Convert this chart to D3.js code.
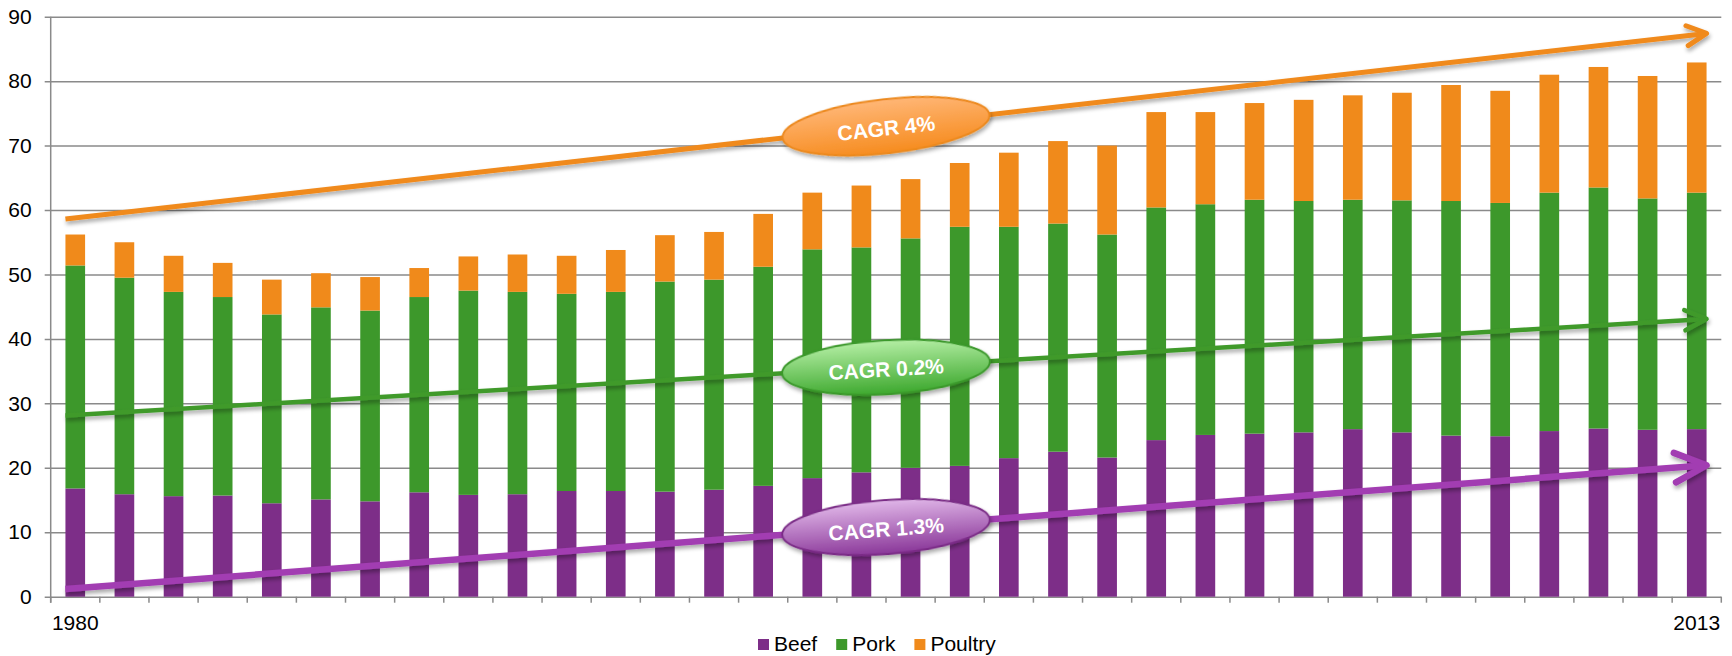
<!DOCTYPE html>
<html>
<head>
<meta charset="utf-8">
<script src="https://cdn.jsdelivr.net/npm/d3@7"></script>
<style>
  html, body { margin: 0; padding: 0; background: #fff; }
  svg { display: block; font-family: "Liberation Sans", Arial, sans-serif; }
</style>
</head>
<body>
<svg id="chart" width="1732" height="656"></svg>
<script>
// Meat consumption by type, 1980–2013
const years = [1980, 1981, 1982, 1983, 1984, 1985, 1986, 1987, 1988, 1989,
               1990, 1991, 1992, 1993, 1994, 1995, 1996, 1997, 1998, 1999,
               2000, 2001, 2002, 2003, 2004, 2005, 2006, 2007, 2008, 2009,
               2010, 2011, 2012, 2013];
const seriesNames = ["Beef", "Pork", "Poultry"];
const beef = [16.8, 15.9, 15.6, 15.7, 14.5, 15.1, 14.8, 16.2, 15.8, 15.9,
              16.4, 16.4, 16.3, 16.6, 17.2, 18.4, 19.3, 20.0, 20.3, 21.5,
              22.5, 21.6, 24.3, 25.1, 25.3, 25.5, 26.0, 25.5, 25.0, 24.9,
              25.7, 26.1, 25.9, 26.0];
const pork = [34.6, 33.6, 31.7, 30.8, 29.3, 29.8, 29.6, 30.3, 31.7, 31.4,
              30.6, 30.9, 32.6, 32.6, 34.0, 35.5, 34.9, 35.6, 37.1, 35.9,
              35.4, 34.6, 36.1, 35.8, 36.3, 35.9, 35.6, 36.0, 36.4, 36.2,
              37.0, 37.4, 35.9, 36.7];
const poultry = [4.8, 5.5, 5.6, 5.3, 5.4, 5.3, 5.2, 4.5, 5.3, 5.8,
                 5.9, 6.5, 7.2, 7.4, 8.2, 8.8, 9.6, 9.2, 9.9, 11.5,
                 12.8, 13.8, 14.8, 14.3, 15.0, 15.7, 16.2, 16.7, 18.0, 17.4,
                 18.3, 18.7, 19.0, 20.2];
const yTicks = [0, 10, 20, 30, 40, 50, 60, 70, 80, 90];
const xLabels = [1980, 2013];

// Growth trend arrows: value at the start and end of the period
const trendLabels = ["CAGR 4%", "CAGR 0.2%", "CAGR 1.3%"];
const trendStart = [58.6, 28.1, 1.2];
const trendEnd = [87.4, 43.1, 20.4];

const colors = { Beef: "#7d2e88", Pork: "#3d982b", Poultry: "#f08a1b" };
const trendStyles = [
  { line: "#f08a1d", width: 5, arm: 22, spread: 27, top: "#ffb676", bottom: "#f68c1f", stroke: "#ec891e" },
  { line: "#3f9a2c", width: 4.5, arm: 24, spread: 25, top: "#b4eea4", bottom: "#3da82e", stroke: "#3a982a" },
  { line: "#a23db2", width: 6.5, arm: 35, spread: 25, top: "#e0b6e8", bottom: "#8a3799", stroke: "#7a2b86" }
];

const svg = d3.select("#chart");
const plotLeft = 50.7, plotRight = 1721.3, plotTop = 16.7, plotBottom = 596.7;
const fontSize = 21;

const x = d3.scaleBand().domain(years).range([plotLeft, plotRight]).paddingInner(0.6).paddingOuter(0.3);
const y = d3.scaleLinear().domain([0, 90]).range([plotBottom, plotTop]);

const defs = svg.append("defs");
const shadow = defs.append("filter").attr("id", "shadow")
  .attr("x", "-10%").attr("y", "-60%").attr("width", "120%").attr("height", "220%");
shadow.append("feGaussianBlur").attr("in", "SourceAlpha").attr("stdDeviation", 2.2);
shadow.append("feOffset").attr("dx", 1).attr("dy", 3).attr("result", "off");
shadow.append("feComponentTransfer").attr("in", "off").attr("result", "soft")
  .append("feFuncA").attr("type", "linear").attr("slope", 0.35);
const merge = shadow.append("feMerge");
merge.append("feMergeNode").attr("in", "soft");
merge.append("feMergeNode").attr("in", "SourceGraphic");

trendStyles.forEach((s, i) => {
  const g = defs.append("linearGradient").attr("id", "fill" + i)
    .attr("x1", 0).attr("y1", 0).attr("x2", 0).attr("y2", 1);
  g.append("stop").attr("offset", "0%").attr("stop-color", s.top);
  g.append("stop").attr("offset", "100%").attr("stop-color", s.bottom);
});

// Gridlines (extend left past the axis as tick marks)
svg.append("g")
  .attr("transform", `translate(${plotLeft},0)`)
  .call(d3.axisLeft(y).tickValues(yTicks).tickSize(6).tickPadding(13).tickFormat(d3.format("d")))
  .call(g => g.select(".domain").remove())
  .call(g => g.selectAll(".tick line").attr("x1", -6).attr("x2", plotRight - plotLeft)
    .attr("stroke", "#8a8a8a").attr("stroke-width", 1.5))
  .call(g => g.selectAll(".tick text").attr("x", -19).attr("fill", "#000")
    .attr("font-size", fontSize).attr("font-family", "Liberation Sans, Arial, sans-serif"));

// Vertical axis line
svg.append("line").attr("x1", plotLeft).attr("x2", plotLeft).attr("y1", plotTop).attr("y2", plotBottom + 6)
  .attr("stroke", "#8a8a8a").attr("stroke-width", 1.5);

// Category tick marks at band boundaries
const step = x.step();
const boundaries = d3.range(years.length + 1).map(k => plotLeft + k * step);
svg.append("g").selectAll("line").data(boundaries).join("line")
  .attr("x1", d => d).attr("x2", d => d).attr("y1", plotBottom).attr("y2", plotBottom + 6)
  .attr("stroke", "#8a8a8a").attr("stroke-width", 1.5);

// Stacked bars
const rows = years.map((yr, i) => ({ year: yr, Beef: beef[i], Pork: pork[i], Poultry: poultry[i] }));
const stacked = d3.stack().keys(seriesNames)(rows);
svg.append("g").selectAll("g").data(stacked).join("g")
  .attr("fill", d => colors[d.key])
  .selectAll("rect").data(d => d).join("rect")
  .attr("x", d => x(d.data.year))
  .attr("width", x.bandwidth())
  .attr("y", d => y(d[1]))
  .attr("height", d => y(d[0]) - y(d[1]));

// Category labels
svg.append("g").selectAll("text").data(xLabels).join("text")
  .attr("x", d => x(d) + x.bandwidth() / 2)
  .attr("y", 630)
  .attr("text-anchor", "middle")
  .attr("font-size", fontSize).attr("fill", "#000")
  .text(d => d);

// Trend arrows with CAGR callouts
const x0 = x(years[0]);
const x1 = x(years[years.length - 1]) + x.bandwidth();
trendLabels.forEach((label, i) => {
  const s = trendStyles[i];
  const ya = y(trendStart[i]), yb = y(trendEnd[i]);
  const ang = Math.atan2(yb - ya, x1 - x0);
  const g = svg.append("g").attr("filter", "url(#shadow)");
  g.append("line").attr("x1", x0).attr("y1", ya).attr("x2", x1).attr("y2", yb)
    .attr("stroke", s.line).attr("stroke-width", s.width);
  const sp = s.spread * Math.PI / 180;
  const armA = [x1 - s.arm * Math.cos(ang - sp), yb - s.arm * Math.sin(ang - sp)];
  const armB = [x1 - s.arm * Math.cos(ang + sp), yb - s.arm * Math.sin(ang + sp)];
  g.append("path")
    .attr("d", d3.line()([armA, [x1, yb], armB]))
    .attr("fill", "none").attr("stroke", s.line).attr("stroke-width", s.width)
    .attr("stroke-linecap", "round").attr("stroke-linejoin", "round");

  const cx = (x0 + x1) / 2, cy = (ya + yb) / 2;
  const deg = ang * 180 / Math.PI;
  const c = svg.append("g").attr("transform", `translate(${cx},${cy}) rotate(${deg})`);
  c.append("ellipse").attr("rx", 104).attr("ry", 27)
    .attr("fill", `url(#fill${i})`).attr("stroke", s.stroke).attr("stroke-width", 2)
    .attr("filter", "url(#shadow)");
  c.append("text").attr("y", 2).attr("dy", "0.35em")
    .attr("text-anchor", "middle").attr("font-size", fontSize).attr("font-weight", "bold")
    .attr("fill", "#fff").text(label);
});

// Legend
const legend = svg.append("g").attr("transform", "translate(758,0)");
let lx = 0;
seriesNames.forEach(name => {
  legend.append("rect").attr("x", lx).attr("y", 639).attr("width", 11).attr("height", 11)
    .attr("fill", colors[name]);
  const t = legend.append("text").attr("x", lx + 16).attr("y", 651)
    .attr("font-size", fontSize).attr("fill", "#000").text(name);
  lx += 16 + t.node().getComputedTextLength() + 19;
});
</script>
</body>
</html>
